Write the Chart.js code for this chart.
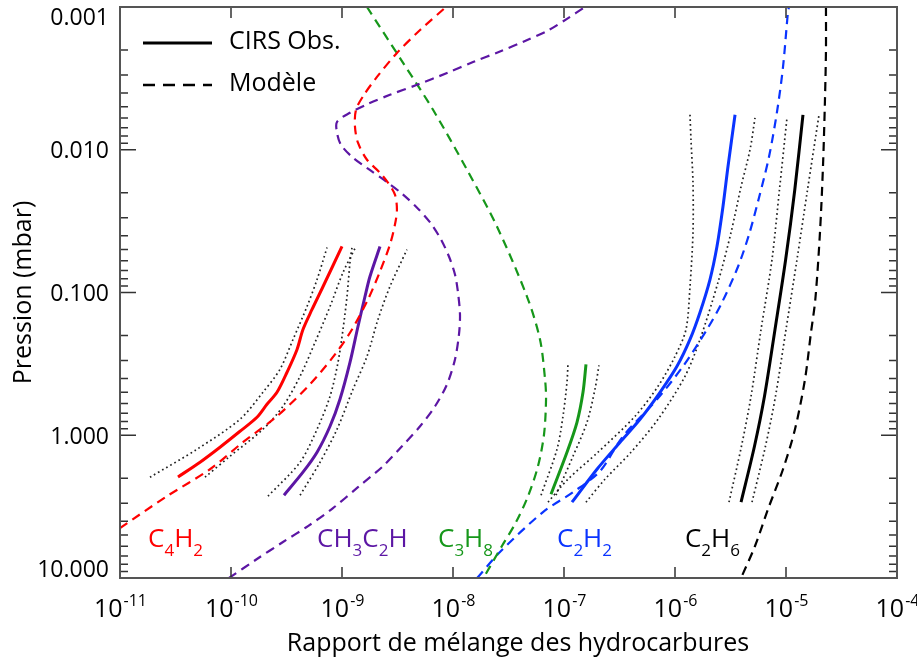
<!DOCTYPE html>
<html><head><meta charset="utf-8">
<script src="https://cdn.jsdelivr.net/npm/chart.js@4"></script>
<style>html,body{margin:0;padding:0;background:#fff;}canvas{display:block}</style>
</head><body>
<canvas id="c" width="917" height="661"></canvas>
<script>
// ---- axis ticks ----
const xTickValues = [1e-11, 1e-10, 1e-9, 1e-8, 1e-7, 1e-6, 1e-5, 1e-4];
const xTickExponents = ['-11', '-10', '-9', '-8', '-7', '-6', '-5', '-4'];
const yTickValues = [0.001, 0.01, 0.1, 1, 10];
const yTickLabels = ['0.001', '0.010', '0.100', '1.000', '10.000'];

// ---- C4H2 ----
const c4h2ObsX = [3.33e-11, 5.26e-11, 7.96e-11, 1.205e-10, 1.714e-10, 2.109e-10, 2.596e-10, 3.197e-10, 3.935e-10, 4.45e-10, 5.37e-10, 6.75e-10, 1.0e-9];
const c4h2ObsP = [1.96, 1.545, 1.213, 0.938, 0.748, 0.607, 0.5, 0.362, 0.2506, 0.1815, 0.1315, 0.0908, 0.0476];
const c4h2LowX = [1.862e-11, 4.94e-11, 1.205e-10, 1.94e-10, 2.761e-10, 3.62e-10, 4.84e-10, 5.96e-10, 7.33e-10];
const c4h2LowP = [1.968, 1.253, 0.7727, 0.5, 0.3451, 0.2133, 0.1253, 0.0811, 0.04842];
const c4h2HighX = [5.83e-11, 9.79e-11, 1.94e-10, 2.94e-10, 4.19e-10, 5.71e-10, 7.80e-10, 1.021e-9, 1.337e-9];
const c4h2HighP = [1.968, 1.403, 0.9078, 0.6266, 0.3864, 0.2239, 0.1253, 0.07244, 0.04764];
const c4h2ModelX = [1e-11, 2.65e-11, 6.47e-11, 1.282e-10, 2.596e-10, 5.15e-10, 8.65e-10, 1.23e-9, 1.714e-9, 2.198e-9, 2.704e-9, 3.0e-9, 3.126e-9, 3.0e-9, 2.594e-9, 2.198e-9, 1.679e-9, 1.393e-9, 1.309e-9, 1.337e-9, 1.578e-9, 2.066e-9, 3.126e-9, 5.05e-9, 8.65e-9];
const c4h2ModelP = [4.467, 2.673, 1.730, 1.119, 0.7362, 0.4395, 0.2716, 0.1815, 0.1119, 0.07129, 0.04613, 0.03342, 0.0263, 0.02065, 0.01702, 0.01449, 0.01175, 0.00893, 0.0069, 0.00525, 0.00412, 0.00309, 0.0021, 0.00145, 0.001];

// ---- CH3C2H ----
const ch3c2hObsX = [3.0e-10, 4.45e-10, 5.96e-10, 7.80e-10, 9.59e-10, 1.18e-9, 1.393e-9, 1.611e-9, 1.786e-9, 2.198e-9];
const ch3c2hObsP = [2.630, 1.815, 1.315, 0.865, 0.5598, 0.309, 0.173, 0.1067, 0.07727, 0.04764];
const ch3c2hLowX = [2.153e-10, 4.19e-10, 5.96e-10, 7.80e-10, 9.2e-10, 1.021e-9, 1.109e-9, 1.18e-9, 1.23e-9];
const ch3c2hLowP = [2.673, 1.545, 0.9078, 0.5333, 0.309, 0.1815, 0.1067, 0.06166, 0.04842];
const ch3c2hHighX = [4.19e-10, 6.34e-10, 9.02e-10, 1.256e-9, 1.679e-9, 2.109e-9, 2.704e-9, 3.85e-9];
const ch3c2hHighP = [2.630, 1.545, 0.9078, 0.4764, 0.2805, 0.1545, 0.09078, 0.05];
const ch3c2hModelX = [9.6e-11, 1.714e-10, 2.94e-10, 4.94e-10, 8.30e-10, 1.393e-9, 2.339e-9, 3.47e-9, 5.05e-9, 6.89e-9, 8.83e-9, 1.042e-8, 1.132e-8, 1.156e-8, 1.109e-8, 1.042e-8, 9.2e-9, 7.80e-9, 6.34e-9, 4.84e-9, 3.47e-9, 2.44e-9, 1.714e-9, 1.23e-9, 9.79e-10, 9.02e-10, 9.02e-10, 1.18e-9, 1.679e-9, 2.704e-9, 4.74e-9, 8.83e-9, 1.514e-8, 2.649e-8, 4.457e-8, 7.18e-8, 1.064e-7, 1.545e-7];
const ch3c2hModelP = [10, 7.36, 5.598, 4.33, 3.24, 2.31, 1.648, 1.194, 0.865, 0.6266, 0.4395, 0.2943, 0.1967, 0.1426, 0.1, 0.07482, 0.05598, 0.04256, 0.03293, 0.02587, 0.02031, 0.01647, 0.01358, 0.0112, 0.00923, 0.0076, 0.00637, 0.00551, 0.00481, 0.00412, 0.00351, 0.0029, 0.00243, 0.00205, 0.00173, 0.00146, 0.00121, 0.001];

// ---- C3H8 ----
const c3h8ObsX = [7.64e-8, 1.064e-7, 1.309e-7, 1.483e-7, 1.578e-7];
const c3h8ObsP = [2.588, 1.315, 0.811, 0.5, 0.3184];
const c3h8LowX = [6.21e-8, 8.65e-8, 9.79e-8, 1.064e-7, 1.086e-7];
const c3h8LowP = [2.630, 1.253, 0.7362, 0.4256, 0.3141];
const c3h8HighX = [8.47e-8, 1.205e-7, 1.611e-7, 1.901e-7, 2.066e-7];
const c3h8HighP = [2.630, 1.403, 0.811, 0.4764, 0.3236];
const c3h8ModelX = [1.679e-9, 3.55e-9, 6.61e-9, 1.337e-8, 2.489e-8, 4.64e-8, 6.08e-8, 6.75e-8, 6.89e-8, 6.61e-8, 5.83e-8, 4.74e-8, 3.70e-8, 2.76e-8, 1.88e-8];
const c3h8ModelP = [0.001, 0.00246, 0.00525, 0.0138, 0.03451, 0.1067, 0.2133, 0.4055, 0.5598, 0.984, 1.648, 2.673, 4.055, 5.970, 10];

// ---- C2H2 ----
const c2h2ObsX = [1.18e-7, 1.982e-7, 3.199e-7, 4.84e-7, 7.33e-7, 1.042e-6, 1.365e-6, 1.679e-6, 2.066e-6, 2.388e-6, 2.704e-6, 3.0e-6, 3.475e-6];
const c2h2ObsP = [2.943, 1.730, 1.119, 0.7727, 0.5, 0.3289, 0.2133, 0.138, 0.0811, 0.04764, 0.02506, 0.01315, 0.00569];
const c2h2LowX = [7.18e-8, 1.086e-7, 2.023e-7, 4.365e-7, 7.03e-7, 1.0e-6, 1.256e-6, 1.365e-6, 1.452e-6, 1.452e-6, 1.393e-6, 1.365e-6];
const c2h2LowP = [2.943, 2.032, 1.315, 0.7362, 0.4539, 0.2805, 0.1815, 0.09078, 0.03802, 0.01702, 0.00851, 0.00569];
const c2h2HighX = [1.578e-7, 2.339e-7, 4.018e-7, 7.03e-7, 1.23e-6, 1.679e-6, 2.438e-6, 3.197e-6, 3.935e-6, 4.74e-6, 5.26e-6];
const c2h2HighP = [2.943, 2.032, 1.315, 0.7727, 0.3864, 0.2133, 0.08511, 0.03802, 0.01815, 0.01, 0.00597];
const c2h2ModelX = [1.65e-8, 2.649e-8, 6.47e-8, 1.205e-7, 2.109e-7, 3.404e-7, 6.89e-7, 1.18e-6, 1.941e-6, 2.649e-6, 3.70e-6, 4.645e-6, 5.71e-6, 7.03e-6, 8.30e-6, 9.40e-6, 1.042e-5, 1.064e-5];
const c2h2ModelP = [10, 6.577, 3.451, 2.506, 1.786, 1.016, 0.5598, 0.3289, 0.1815, 0.1175, 0.06577, 0.03926, 0.02168, 0.0112, 0.00542, 0.00263, 0.00108, 0.001];

// ---- C2H6 ----
const c2h6ObsX = [3.935e-6, 5.20e-6, 6.40e-6, 7.96e-6, 9.93e-6, 1.2e-5, 1.422e-5];
const c2h6ObsP = [2.943, 1.194, 0.5333, 0.1815, 0.05875, 0.01905, 0.00569];
const c2h6LowX = [3.065e-6, 3.97e-6, 4.84e-6, 5.96e-6, 7.48e-6, 8.73e-6, 1.021e-5];
const c2h6LowP = [2.943, 1.194, 0.5333, 0.1815, 0.05875, 0.01905, 0.00597];
const c2h6HighX = [4.94e-6, 6.53e-6, 8.04e-6, 1.0e-5, 1.256e-5, 1.563e-5, 1.99e-5];
const c2h6HighP = [2.943, 1.194, 0.5333, 0.1815, 0.05875, 0.01905, 0.0056];
const c2h6ModelX = [2.291e-5, 2.291e-5, 2.244e-5, 2.153e-5, 2.023e-5, 1.837e-5, 1.679e-5, 1.483e-5, 1.205e-5, 9.40e-6, 6.89e-6, 5.26e-6, 3.935e-6];
const c2h6ModelP = [0.001, 0.002, 0.00447, 0.01315, 0.03802, 0.1119, 0.1905, 0.4055, 0.9078, 1.730, 3.289, 5.970, 10];

// ---- species labels ----
const speciesNames = ['C_4H_2', 'CH_3C_2H', 'C_3H_8', 'C_2H_2', 'C_2H_6'];
const speciesLabelX = [1.79e-11, 5.96e-10, 7.33e-9, 8.65e-8, 1.23e-6];
const speciesLabelP = 6.07;
const legendLabels = ['CIRS Obs.', 'Modèle'];

// ---- styles ----
const COLORS = { c4h2: '#ff0000', ch3c2h: '#5c16a4', c3h8: '#16971a', c2h2: '#0a34ff', c2h6: '#000000' };
const speciesColors = [COLORS.c4h2, COLORS.ch3c2h, COLORS.c3h8, COLORS.c2h2, COLORS.c2h6];
const FONT = '"Open Sans", "DejaVu Sans", sans-serif';

const pts = (xs, ps) => xs.map((x, i) => ({ x: x, y: ps[i] }));
const datasets = [];
function addSpecies(color, obsX, obsP, lowX, lowP, highX, highP, modX, modP) {
  datasets.push({ data: pts(modX, modP), borderColor: color, borderWidth: 2.2, borderDash: [9, 6], tension: 0.3 });
  datasets.push({ data: pts(lowX, lowP), borderColor: '#222', borderWidth: 1.7, borderDash: [1.7, 3], tension: 0.3 });
  datasets.push({ data: pts(highX, highP), borderColor: '#222', borderWidth: 1.7, borderDash: [1.7, 3], tension: 0.3 });
  datasets.push({ data: pts(obsX, obsP), borderColor: color, borderWidth: 3, tension: 0.3 });
}
addSpecies(COLORS.c4h2, c4h2ObsX, c4h2ObsP, c4h2LowX, c4h2LowP, c4h2HighX, c4h2HighP, c4h2ModelX, c4h2ModelP);
addSpecies(COLORS.ch3c2h, ch3c2hObsX, ch3c2hObsP, ch3c2hLowX, ch3c2hLowP, ch3c2hHighX, ch3c2hHighP, ch3c2hModelX, ch3c2hModelP);
addSpecies(COLORS.c3h8, c3h8ObsX, c3h8ObsP, c3h8LowX, c3h8LowP, c3h8HighX, c3h8HighP, c3h8ModelX, c3h8ModelP);
addSpecies(COLORS.c2h2, c2h2ObsX, c2h2ObsP, c2h2LowX, c2h2LowP, c2h2HighX, c2h2HighP, c2h2ModelX, c2h2ModelP);
addSpecies(COLORS.c2h6, c2h6ObsX, c2h6ObsP, c2h6LowX, c2h6LowP, c2h6HighX, c2h6HighP, c2h6ModelX, c2h6ModelP);
datasets.forEach(d => { d.showLine = true; d.pointRadius = 0; d.fill = false; d.borderCapStyle = 'butt'; });

function drawChem(ctx, text, x, y, color, big, small) {
  let cx = x;
  ctx.fillStyle = color; ctx.textAlign = 'left'; ctx.textBaseline = 'alphabetic';
  for (let i = 0; i < text.length; i++) {
    let ch = text[i];
    if (ch === '_') {
      ch = text[++i];
      ctx.font = small + 'px ' + FONT;
      ctx.fillText(ch, cx, y + 9);
    } else {
      ctx.font = big + 'px ' + FONT;
      ctx.fillText(ch, cx, y);
    }
    cx += ctx.measureText(ch).width;
  }
}

const decor = {
  id: 'decor',
  afterDatasetsDraw(chart) {
    const { ctx, chartArea: a, scales: { x, y } } = chart;
    ctx.save();
    // ticks
    ctx.strokeStyle = '#333'; ctx.lineWidth = 1.5;
    ctx.beginPath();
    for (let e = -3; e <= 1; e++) {
      for (let m = 1; m <= 9; m++) {
        const v = m * Math.pow(10, e);
        if (v < y.min * 0.999 || v > y.max * 1.001) continue;
        const py = y.getPixelForValue(v);
        const len = m === 1 ? 16 : 8;
        ctx.moveTo(a.left, py); ctx.lineTo(a.left + len, py);
        ctx.moveTo(a.right, py); ctx.lineTo(a.right - len, py);
      }
    }
    xTickValues.forEach(v => {
      const px = x.getPixelForValue(v);
      ctx.moveTo(px, a.top); ctx.lineTo(px, a.top + 11);
      ctx.moveTo(px, a.bottom); ctx.lineTo(px, a.bottom - 11);
    });
    ctx.stroke();
    // frame
    ctx.strokeStyle = '#555'; ctx.lineWidth = 2;
    ctx.strokeRect(a.left, a.top, a.right - a.left, a.bottom - a.top);

    // y tick labels
    ctx.fillStyle = '#000';
    ctx.font = '23px ' + FONT; ctx.textAlign = 'right'; ctx.textBaseline = 'middle';
    yTickValues.forEach((v, i) => {
      let py = y.getPixelForValue(v) + 2;
      py = Math.max(a.top + 11, Math.min(a.bottom - 8, py));
      ctx.fillText(yTickLabels[i], a.left - 11, py);
    });
    // x tick labels with superscript
    ctx.textBaseline = 'alphabetic'; ctx.textAlign = 'left';
    xTickValues.forEach((v, i) => {
      const px = x.getPixelForValue(v);
      ctx.font = '25px ' + FONT; const w1 = ctx.measureText('10').width;
      ctx.font = '16px ' + FONT; const w2 = ctx.measureText(xTickExponents[i]).width;
      const x0 = px - (w1 + w2) / 2;
      ctx.font = '25px ' + FONT; ctx.fillText('10', x0, 617);
      ctx.font = '16px ' + FONT; ctx.fillText(xTickExponents[i], x0 + w1 + 1, 606);
    });
    // axis titles
    ctx.font = '25px ' + FONT; ctx.textAlign = 'center';
    ctx.fillText('Rapport de mélange des hydrocarbures', 518, 651);
    ctx.save();
    ctx.translate(31, (a.top + a.bottom) / 2);
    ctx.rotate(-Math.PI / 2);
    ctx.fillText('Pression (mbar)', 0, 0);
    ctx.restore();

    // legend
    ctx.strokeStyle = '#000';
    ctx.lineWidth = 3; ctx.setLineDash([]);
    ctx.beginPath(); ctx.moveTo(a.left + 23, 43); ctx.lineTo(a.left + 92, 43); ctx.stroke();
    ctx.lineWidth = 2.5; ctx.setLineDash([12, 8]);
    ctx.beginPath(); ctx.moveTo(a.left + 23, 85); ctx.lineTo(a.left + 92, 85); ctx.stroke();
    ctx.setLineDash([]);
    ctx.font = '25px ' + FONT; ctx.textAlign = 'left'; ctx.textBaseline = 'middle'; ctx.fillStyle = '#000';
    ctx.fillText(legendLabels[0], a.left + 109, 42);
    ctx.fillText(legendLabels[1], a.left + 109, 84);

    // species labels
    speciesNames.forEach((n, i) => {
      drawChem(ctx, n, x.getPixelForValue(speciesLabelX[i]), y.getPixelForValue(speciesLabelP), speciesColors[i], 26, 17);
    });
    ctx.restore();
  }
};

new Chart(document.getElementById('c'), {
  type: 'scatter',
  data: { datasets: datasets },
  options: {
    responsive: false, animation: false, devicePixelRatio: 1,
    layout: { padding: { left: 120, right: 20, top: 7, bottom: 83 } },
    plugins: { legend: { display: false }, tooltip: { enabled: false } },
    scales: {
      x: { type: 'logarithmic', min: 1e-11, max: 1e-4, display: false },
      y: { type: 'logarithmic', min: 1e-3, max: 10, reverse: true, display: false }
    }
  },
  plugins: [decor]
});
</script>
</body></html>
